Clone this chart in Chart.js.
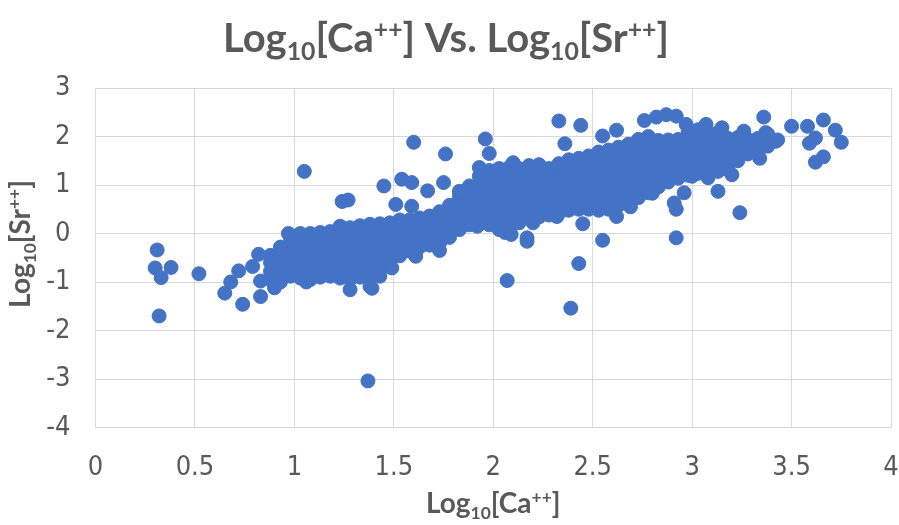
<!DOCTYPE html>
<html>
<head>
<meta charset="utf-8">
<script src="https://cdn.jsdelivr.net/npm/chart.js@4.4.1/dist/chart.umd.min.js"></script>
<style>
  html, body { margin: 0; padding: 0; background: #ffffff; }
  #wrap { width: 899px; height: 525px; }
</style>
</head>
<body>
<div id="wrap"><canvas id="c" width="899" height="525"></canvas></div>
<script>
// Axis ticks
const xTickStep = 0.5;
const yTickStep = 1;

// Scattered samples: log10 of calcium and strontium concentrations
const sparseCa = [
  0.31, 0.30, 0.38, 0.33, 0.32, 0.52, 0.65, 0.68, 0.74, 0.72, 0.82, 0.83, 0.79, 0.83, 0.90, 0.93, 0.97, 0.94, 1.06,
  1.05, 1.24, 1.27, 1.23, 1.28, 1.39, 1.37, 1.38, 1.43, 1.49, 1.45, 1.54, 1.59, 1.51, 1.59, 1.60, 1.76, 1.67, 1.75,
  1.61, 1.73, 1.83, 1.83, 1.92, 1.97, 1.93, 1.96, 1.98, 2.10, 2.06, 2.09, 2.07, 2.17, 2.17, 2.20, 2.32, 2.33, 2.44,
  2.36, 2.45, 2.55, 2.43, 2.39, 2.55, 2.62, 2.62, 2.69,
  2.76, 2.82, 2.87, 2.92, 2.97, 2.80, 2.92, 2.91, 2.92, 2.96, 3.00, 3.07, 3.15, 3.26, 3.36, 3.37, 3.38, 3.43, 3.34,
  3.20, 3.08, 3.13, 3.24, 3.50, 3.58, 3.66, 3.72, 3.75, 3.59, 3.62, 3.62, 3.66
];
const sparseSr = [
  -0.34, -0.71, -0.70, -0.91, -1.70, -0.83, -1.23, -1.00, -1.46, -0.77, -0.43, -1.30, -0.68, -0.98, -1.12, -1.00, 0.00, -0.38, -1.00,
  1.28, 0.66, 0.69, 0.15, -1.16, -1.13, -3.04, -1.09, -0.88, -0.71, 0.98, 1.12, 1.05, 0.60, 0.56, 1.88, 1.64, 0.88, 1.05,
  -0.47, -0.35, 0.87, 0.08, 0.15, 0.25, 1.36, 1.95, 1.65, 1.46, 0.02, -0.02, -0.97, -0.09, -0.16, 0.22, 0.35, 2.32, 2.23,
  1.85, 0.20, -0.14, -0.62, -1.54, 2.01, 2.13, 0.35, 0.55,
  2.33, 2.40, 2.45, 2.42, 2.25, 0.83, -0.09, 0.63, 0.50, 0.84, 1.18, 2.25, 2.18, 2.11, 2.40, 2.08, 2.05, 1.93, 1.55,
  1.21, 1.15, 0.87, 0.43, 2.21, 2.21, 2.34, 2.13, 1.88, 1.86, 1.97, 1.47, 1.58
];

// Main trend: samples grouped by log10[Ca++], each with its log10[Sr++] readings
const bandCa = [
  0.88, 0.93, 0.98, 1.03, 1.08, 1.13, 1.18, 1.23, 1.28, 1.33, 1.38, 1.43, 1.48, 1.53, 1.58, 1.63, 1.68, 1.73, 1.78,
  1.83, 1.88, 1.93, 1.98, 2.03, 2.08, 2.13, 2.18, 2.23, 2.28, 2.33, 2.38, 2.43, 2.48, 2.53, 2.58, 2.63, 2.68, 2.73,
  2.78, 2.83, 2.88, 2.93, 2.98, 3.03, 3.08, 3.13, 3.18, 3.23, 3.28, 3.33, 3.38, 3.42
];
const bandSr = [
  [-0.95, -0.78, -0.60, -0.45],
  [-0.92, -0.75, -0.58, -0.40, -0.28],
  [-0.88, -0.72, -0.55, -0.38, -0.22, -0.08],
  [-0.92, -0.76, -0.60, -0.44, -0.28, -0.12, 0.00],
  [-0.95, -0.80, -0.64, -0.48, -0.32, -0.16, 0.00],
  [-0.90, -0.74, -0.57, -0.41, -0.25, -0.10, 0.02],
  [-0.88, -0.72, -0.56, -0.40, -0.24, -0.08, 0.04],
  [-0.92, -0.75, -0.58, -0.42, -0.26, -0.10, 0.06],
  [-0.95, -0.78, -0.62, -0.45, -0.29, -0.13, 0.03, 0.12],
  [-0.90, -0.74, -0.58, -0.42, -0.26, -0.10, 0.06, 0.16],
  [-0.92, -0.76, -0.60, -0.43, -0.27, -0.11, 0.05, 0.19],
  [-0.75, -0.60, -0.44, -0.28, -0.12, 0.04, 0.20],
  [-0.56, -0.40, -0.24, -0.08, 0.08, 0.22],
  [-0.46, -0.30, -0.14, 0.02, 0.16, 0.28],
  [-0.36, -0.20, -0.04, 0.12, 0.28],
  [-0.28, -0.12, 0.04, 0.20, 0.32],
  [-0.24, -0.08, 0.08, 0.22, 0.36],
  [-0.20, -0.04, 0.12, 0.28, 0.45],
  [-0.08, 0.08, 0.24, 0.40, 0.58],
  [0.10, 0.26, 0.42, 0.58, 0.74, 0.84],
  [0.18, 0.34, 0.50, 0.66, 0.82, 0.98],
  [0.20, 0.36, 0.52, 0.68, 0.84, 1.00, 1.18],
  [0.18, 0.34, 0.50, 0.66, 0.82, 0.98, 1.14, 1.30],
  [0.08, 0.24, 0.40, 0.56, 0.72, 0.88, 1.04, 1.20, 1.34],
  [0.10, 0.26, 0.42, 0.58, 0.74, 0.90, 1.06, 1.22, 1.36],
  [0.22, 0.38, 0.54, 0.70, 0.86, 1.02, 1.18, 1.34],
  [0.32, 0.48, 0.64, 0.80, 0.96, 1.12, 1.28, 1.40],
  [0.34, 0.50, 0.66, 0.82, 0.98, 1.14, 1.30, 1.42],
  [0.38, 0.54, 0.70, 0.86, 1.02, 1.18, 1.34],
  [0.42, 0.58, 0.74, 0.90, 1.06, 1.22, 1.38, 1.44],
  [0.48, 0.64, 0.80, 0.96, 1.12, 1.28, 1.44, 1.52],
  [0.50, 0.66, 0.82, 0.98, 1.14, 1.30, 1.46, 1.55],
  [0.50, 0.66, 0.82, 0.98, 1.14, 1.30, 1.46, 1.60],
  [0.48, 0.64, 0.80, 0.96, 1.12, 1.28, 1.44, 1.60, 1.68],
  [0.50, 0.66, 0.82, 0.98, 1.14, 1.30, 1.46, 1.62, 1.72],
  [0.58, 0.74, 0.90, 1.06, 1.22, 1.38, 1.54, 1.70, 1.78],
  [0.66, 0.82, 0.98, 1.14, 1.30, 1.46, 1.62, 1.78, 1.84],
  [0.74, 0.90, 1.06, 1.22, 1.38, 1.54, 1.70, 1.86, 1.94],
  [0.84, 1.00, 1.16, 1.32, 1.48, 1.64, 1.80, 1.96, 2.00],
  [0.96, 1.12, 1.28, 1.44, 1.60, 1.76, 1.92],
  [1.06, 1.22, 1.38, 1.54, 1.70, 1.86, 1.93],
  [1.14, 1.30, 1.46, 1.62, 1.78, 1.94],
  [1.20, 1.36, 1.52, 1.68, 1.84, 2.00, 2.12],
  [1.24, 1.40, 1.56, 1.72, 1.88, 2.04, 2.14],
  [1.26, 1.42, 1.58, 1.74, 1.90, 2.06],
  [1.28, 1.44, 1.60, 1.76, 1.92, 2.08],
  [1.32, 1.48, 1.64, 1.80, 1.96],
  [1.50, 1.66, 1.82, 1.98],
  [1.64, 1.80, 1.94],
  [1.66, 1.82, 1.96],
  [1.80, 1.94],
  [1.90]
];

// Build the point list for the scatter dataset
const points = [];
bandCa.forEach((ca, i) => bandSr[i].forEach(sr => points.push({ x: ca, y: sr })));
sparseCa.forEach((ca, i) => points.push({ x: ca, y: sparseSr[i] }));

const TEXT = '#595959';
const GRID = '#d9d9d9';
const FONT = 'Lato, "Open Sans", sans-serif';
const TICK_FONT = '"Liberation Sans Narrow", "DejaVu Sans Condensed", Lato, sans-serif';

// Draw a label made of runs, some set as subscript or superscript
function richWidth(ctx, runs, size) {
  let w = 0;
  runs.forEach(r => {
    const s = (r.sub || r.sup) ? size * 0.62 : size;
    ctx.font = 'bold ' + s + 'px ' + FONT;
    w += ctx.measureText(r.t).width;
  });
  return w;
}
function drawRich(ctx, runs, cx, baseY, size, rotated) {
  ctx.save();
  ctx.translate(cx, baseY);
  if (rotated) ctx.rotate(-Math.PI / 2);
  ctx.fillStyle = TEXT;
  ctx.textBaseline = 'alphabetic';
  ctx.textAlign = 'left';
  let x = -richWidth(ctx, runs, size) / 2;
  runs.forEach(r => {
    const s = (r.sub || r.sup) ? size * 0.62 : size;
    ctx.font = 'bold ' + s + 'px ' + FONT;
    const dy = r.sub ? size * 0.2 : (r.sup ? -size * 0.36 : 0);
    ctx.fillText(r.t, x, dy);
    x += ctx.measureText(r.t).width;
  });
  ctx.restore();
}

const titleRuns = [
  { t: 'Log' }, { t: '10', sub: true }, { t: '[Ca' }, { t: '++', sup: true },
  { t: '] Vs. Log' }, { t: '10', sub: true }, { t: '[Sr' }, { t: '++', sup: true }, { t: ']' }
];
const xTitleRuns = [{ t: 'Log' }, { t: '10', sub: true }, { t: '[Ca' }, { t: '++', sup: true }, { t: ']' }];
const yTitleRuns = [{ t: 'Log' }, { t: '10', sub: true }, { t: '[Sr' }, { t: '++', sup: true }, { t: ']' }];

const richTitles = {
  id: 'richTitles',
  afterDraw(chart) {
    const ctx = chart.ctx;
    const area = chart.chartArea;
    const mid = (area.left + area.right) / 2;
    drawRich(ctx, titleRuns, 446, 52, 40, false);
    drawRich(ctx, xTitleRuns, mid, 513, 28, false);
    drawRich(ctx, yTitleRuns, 30, 244, 28, true);
  }
};

new Chart(document.getElementById('c'), {
  type: 'scatter',
  data: {
    datasets: [{
      data: points,
      backgroundColor: '#4472C4',
      borderColor: '#4472C4',
      borderWidth: 1,
      pointRadius: 7,
      pointHoverRadius: 7
    }]
  },
  options: {
    responsive: false,
    animation: false,
    events: [],
    layout: { padding: { top: 88, right: 8, bottom: 0, left: 0 } },
    plugins: {
      legend: { display: false },
      title: { display: false },
      tooltip: { enabled: false }
    },
    scales: {
      x: {
        type: 'linear',
        min: 0,
        max: 4,
        ticks: {
          stepSize: xTickStep, color: TEXT, font: { family: TICK_FONT, size: 27 }, padding: 24, maxRotation: 0,
          callback: v => String(Number(v))
        },
        grid: { color: GRID, lineWidth: 1, drawTicks: false },
        border: { color: GRID },
        afterFit(scale) { scale.height = 97.5; scale.paddingLeft = 0; scale.paddingRight = 0; }
      },
      y: {
        type: 'linear',
        min: -4,
        max: 3,
        ticks: {
          stepSize: yTickStep, color: TEXT, font: { family: TICK_FONT, size: 27 }, padding: 25,
          callback: v => String(Number(v))
        },
        grid: { color: GRID, lineWidth: 1, drawTicks: false },
        border: { color: GRID },
        afterFit(scale) { scale.width = 95.5; scale.paddingTop = 0; scale.paddingBottom = 0; }
      }
    }
  },
  plugins: [richTitles]
});
</script>
</body>
</html>
